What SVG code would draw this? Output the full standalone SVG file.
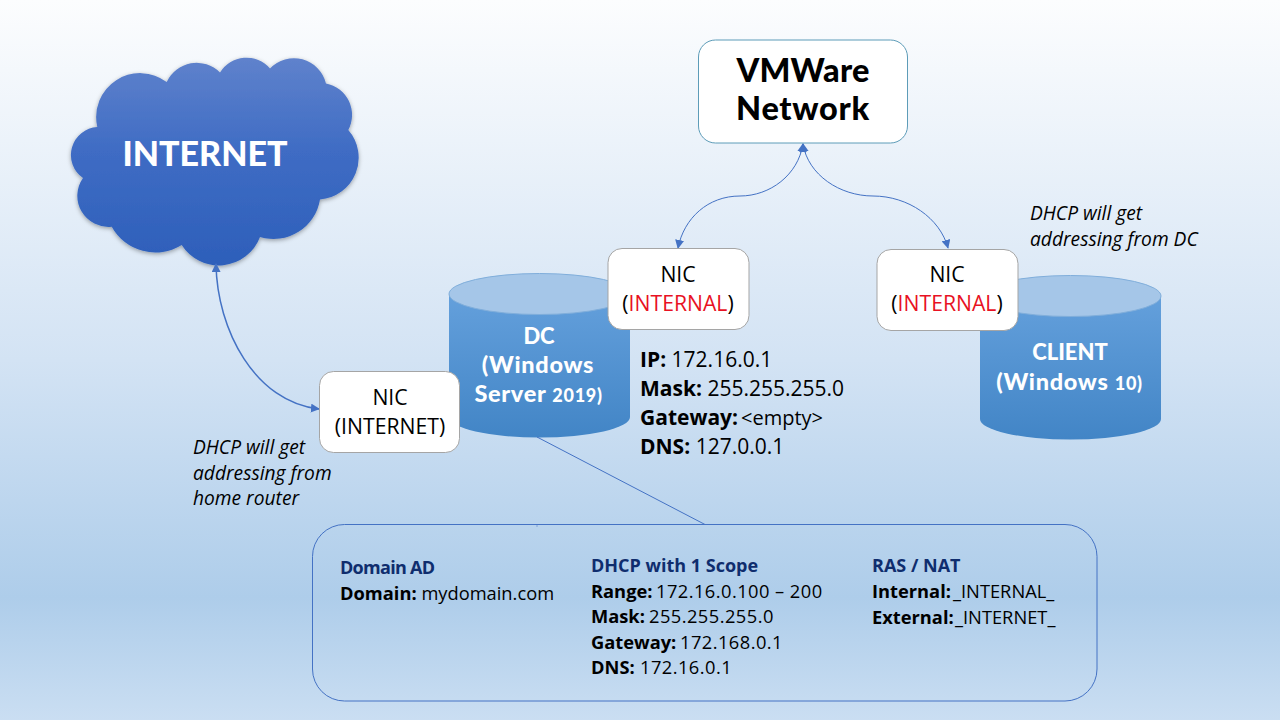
<svg xmlns="http://www.w3.org/2000/svg" width="1280" height="720" viewBox="0 0 1280 720">
<style>
text{font-family:"Open Sans","Noto Sans","Liberation Sans",sans-serif;fill:#000}
.nic{fill:#fff;stroke:#a5a5a5;stroke-width:1}
.t{font-size:21.200px;text-anchor:middle}
.i{font-size:19.200px;font-style:italic}
.d{font-size:21px}
.s{font-size:18.300px}
.n{letter-spacing:0.450px}
.h{font-size:18px;font-weight:700;fill:#0f2d6e}
.b{font-weight:700}
.w{font-family:Lato,"Open Sans",sans-serif;font-weight:900;fill:#fff;text-anchor:middle}
.wd{font-size:23.500px;letter-spacing:0.700px}
.vm{font-family:Lato,sans-serif;font-weight:900;font-size:32.500px;text-anchor:middle}
.cyl{fill:url(#cg)}
.top{fill:#a5c6e8;stroke:#80aedb;stroke-width:1}
.c{fill:none;stroke:#4472c4}
</style>
<defs>
<linearGradient id="bg" x1="0" y1="0" x2="0" y2="1">
<stop offset="0" stop-color="#fcfdfe"/><stop offset="0.5" stop-color="#d3e3f4"/><stop offset="0.83" stop-color="#aecdea"/><stop offset="1" stop-color="#cadef2"/>
</linearGradient>
<linearGradient id="cg" x1="0" y1="0" x2="0" y2="1">
<stop offset="0" stop-color="#64a0dc"/><stop offset="1" stop-color="#4285c6"/>
</linearGradient>
<linearGradient id="cl" x1="0" y1="0" x2="0" y2="1">
<stop offset="0" stop-color="#5f82cc"/><stop offset="0.45" stop-color="#3f6cc4"/><stop offset="1" stop-color="#2d5fba"/>
</linearGradient>
<filter id="sh" x="-10%" y="-10%" width="120%" height="120%"><feDropShadow dx="0" dy="1.500" stdDeviation="2" flood-color="#000" flood-opacity="0.350"/></filter>
<marker id="a" viewBox="0 0 10 10" refX="9" refY="5" markerWidth="9" markerHeight="9" markerUnits="userSpaceOnUse" orient="auto-start-reverse"><path d="M0,0L10,5L0,10Z" fill="#4472c4"/></marker>
</defs>
<rect id="background" width="1280" height="720" fill="url(#bg)"/>
<g id="cloud">
<path filter="url(#sh)" fill="url(#cl)" d="M97.300,127 A44,44 0 0 1 166.700,82 A33,33 0 0 1 220,72.500 A31,31 0 0 1 270,68.500 A33,33 0 0 1 326,83.500 A32,32 0 0 1 348.300,130 A42,42 0 0 1 320,199.500 A47,47 0 0 1 260,237 A44,44 0 0 1 181.700,245 A50,50 0 0 1 111.700,226.700 A31,31 0 0 1 83,178 A28,28 0 0 1 97.300,127 Z"/>
<text class="w" x="205" y="166" font-size="34">INTERNET</text>
</g>
<g id="dc">
<path class="cyl" d="M449,294V417A90.500,20.500 0 0 0 630,417V294Z"/>
<ellipse class="top" cx="539.500" cy="294" rx="90.500" ry="20.500"/>
<text class="w" x="539" y="344" font-size="22">DC</text>
<text class="w wd" x="538" y="373">(Windows</text>
<text class="w wd" x="538.500" y="402">Server <tspan font-size="18">2019)</tspan></text>
</g>
<g id="client">
<path class="cyl" d="M980,296V419A90.500,20.500 0 0 0 1161,419V296Z"/>
<ellipse class="top" cx="1070.500" cy="296" rx="90.500" ry="20.500"/>
<text class="w" x="1070" y="360" font-size="22">CLIENT</text>
<text class="w wd" x="1069.500" y="390">(Windows <tspan font-size="18">10)</tspan></text>
</g>
<g id="connectors">
<path class="c" stroke-width="1.500" marker-start="url(#a)" marker-end="url(#a)" d="M216,264C217,330 255,402 319,409"/>
<path class="c" marker-start="url(#a)" marker-end="url(#a)" d="M803,144C798,175 770,196 740,196C708,196 684,218 678,248"/>
<path class="c" marker-start="url(#a)" marker-end="url(#a)" d="M803,144C808,175 840,196 873,196C908,196 940,218 948,248"/>
<path class="c" d="M537,437L705,524.500"/>
<path class="c" stroke-width="0.500" d="M537,524V527"/>
</g>
<g id="vmware">
<rect x="698.500" y="40" width="209" height="103" rx="17" fill="#fff" stroke="#5d9cb8"/>
<text class="vm" x="803" y="82" letter-spacing="0.200">VMWare</text>
<text class="vm" x="803" y="120" letter-spacing="0.700">Network</text>
</g>
<g id="nic-internet">
<rect class="nic" x="319.500" y="371.500" width="140" height="81" rx="14"/>
<text class="t" x="390" y="405">NIC</text><text class="t" x="390" y="434">(INTERNET)</text>
</g>
<g id="nic-dc">
<rect class="nic" x="608" y="248.500" width="141" height="81" rx="14"/>
<text class="t" x="678" y="282">NIC</text><text class="t" x="678" y="311">(<tspan fill="#e81123">INTERNAL</tspan>)</text>
</g>
<g id="nic-client">
<rect class="nic" x="877" y="249.500" width="141" height="81" rx="14"/>
<text class="t" x="947" y="282">NIC</text><text class="t" x="947" y="311">(<tspan fill="#e81123">INTERNAL</tspan>)</text>
</g>
<g id="note-client">
<text class="i" x="1030" y="220">DHCP will get</text><text class="i" x="1030" y="246">addressing from DC</text>
</g>
<g id="note-internet">
<text class="i" x="193" y="454">DHCP will get</text><text class="i" x="193" y="480">addressing from</text><text class="i" x="193" y="505">home router</text>
</g>
<g id="dc-addressing">
<text class="d" x="640" y="367"><tspan class="b">IP:</tspan> 172.16.0.1</text>
<text class="d" x="640" y="396"><tspan class="b">Mask:</tspan> 255.255.255.0</text>
<text class="d" x="640" y="425"><tspan class="b">Gateway:</tspan> <tspan x="741" font-size="20">&lt;empty&gt;</tspan></text>
<text class="d" x="640" y="454"><tspan class="b">DNS:</tspan> 127.0.0.1</text>
</g>
<g id="services">
<rect x="312.500" y="524.500" width="784.500" height="176.500" rx="32" fill="none" stroke="#4472c4"/>
<text class="h" x="340" y="574" textLength="95">Domain AD</text>
<text class="s" x="340" y="600"><tspan class="b">Domain:</tspan> mydomain.com</text>
<text class="h" x="591" y="572">DHCP with 1 Scope</text>
<text class="s" x="591" y="598"><tspan class="b">Range:</tspan> <tspan class="n" x="656">172.16.0.100 – 200</tspan></text>
<text class="s" x="591" y="623"><tspan class="b">Mask:</tspan> <tspan class="n" x="649">255.255.255.0</tspan></text>
<text class="s" x="591" y="649"><tspan class="b">Gateway:</tspan> <tspan class="n" x="680">172.168.0.1</tspan></text>
<text class="s" x="591" y="674"><tspan class="b">DNS:</tspan> <tspan class="n" x="640">172.16.0.1</tspan></text>
<text class="h" x="872" y="572">RAS / NAT</text>
<text class="s" x="872" y="598"><tspan class="b">Internal:</tspan> <tspan x="953">_INTERNAL_</tspan></text>
<text class="s" x="872" y="624"><tspan class="b">External:</tspan> <tspan x="955">_INTERNET_</tspan></text>
</g>
</svg>
